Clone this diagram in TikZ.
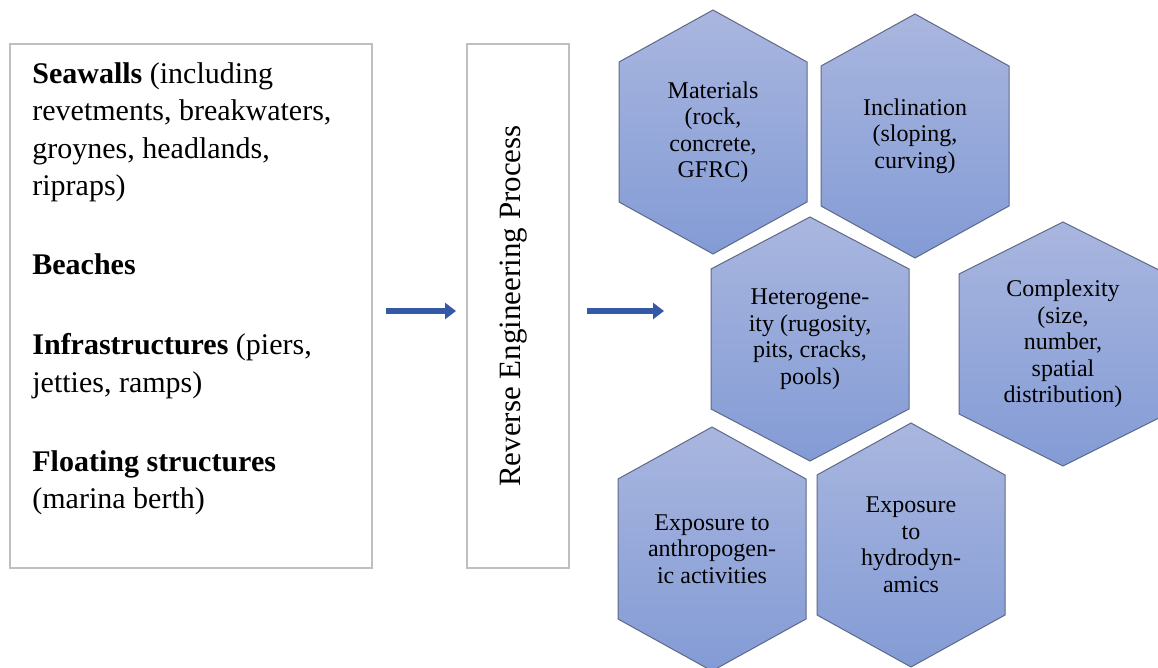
\documentclass[tikz,border=0pt]{standalone}
\usepackage{fontspec}
\setmainfont{Liberation Serif}
\usetikzlibrary{arrows.meta}

\definecolor{boxgray}{RGB}{191,191,191}
\definecolor{hextop}{RGB}{169,182,223}
\definecolor{hexbot}{RGB}{131,155,213}
\definecolor{hexedge}{RGB}{95,105,135}
\definecolor{arrowblue}{RGB}{52,90,165}

% hexagon cell: name, centre x, centre y, half width, text
\newcommand{\hexcell}[5]{%
  \draw[hexfill] (#2,#3-122) -- (#2+#4,#3-70) -- (#2+#4,#3+70) -- (#2,#3+122)
    -- (#2-#4,#3+70) -- (#2-#4,#3-70) -- cycle;
  \node[hextext] (#1) at (#2,#3) {#5};
}

\begin{document}
\begin{tikzpicture}[x=0.5pt, y=-0.5pt,
  greybox/.style={draw=boxgray, line width=1pt, inner sep=0pt},
  hexfill/.style={draw=hexedge, line width=0.5pt, top color=hextop, bottom color=hexbot},
  hextext/.style={align=center, inner sep=0pt, font=\fontsize{12}{13.25}\selectfont},
  bigarrow/.style={draw=arrowblue, line width=3pt, -{Triangle[length=5.5pt, width=8pt]}}]
  \useasboundingbox (0,0) rectangle (1158,668);
  \clip (0,0) rectangle (1158,668);

  \node[greybox, minimum width=181pt, minimum height=262pt] (src) at (191,306) {};
  \node[anchor=base west, align=left, inner sep=0pt, font=\fontsize{15}{18.75}\selectfont] (srctext) at (32,509) {%
    \textbf{Seawalls} (including\\
    revetments, breakwaters,\\
    groynes, headlands,\\
    ripraps)\\[21pt]
    \textbf{Beaches}\\[21pt]
    \textbf{Infrastructures} (piers,\\
    jetties, ramps)\\[21pt]
    \textbf{Floating structures}\\
    (marina berth)};

  \node[greybox, minimum width=51pt, minimum height=262pt] (re) at (518,306) {};
  \node[rotate=90, inner sep=0pt, font=\fontsize{15.5}{18}\selectfont] (retext) at (514,306) {Reverse Engineering Process};

  \hexcell{materials}{713}{132}{94}{Materials\\(rock,\\concrete,\\GFRC)}
  \hexcell{inclination}{915}{136}{94}{Inclination\\(sloping,\\curving)}
  \hexcell{hetero}{810}{339}{99}{Heterogene-\\ity (rugosity,\\pits, cracks,\\pools)}
  \hexcell{complexity}{1063}{344}{104}{Complexity\\(size,\\number,\\spatial\\distribution)}
  \hexcell{anthropo}{712}{549}{94}{Exposure to\\anthropogen-\\ic activities}
  \hexcell{hydro}{911}{545}{94}{Exposure\\to\\hydrodyn-\\amics}

  \coordinate (hexin) at (664,311);
  \draw[bigarrow, shorten <=6.5pt, shorten >=5pt] ([yshift=-2.5pt]src.east) -- ([yshift=-2.5pt]re.west);
  \draw[bigarrow, shorten <=8.5pt] ([yshift=-2.5pt]re.east) -- (hexin);
\end{tikzpicture}
\end{document}
